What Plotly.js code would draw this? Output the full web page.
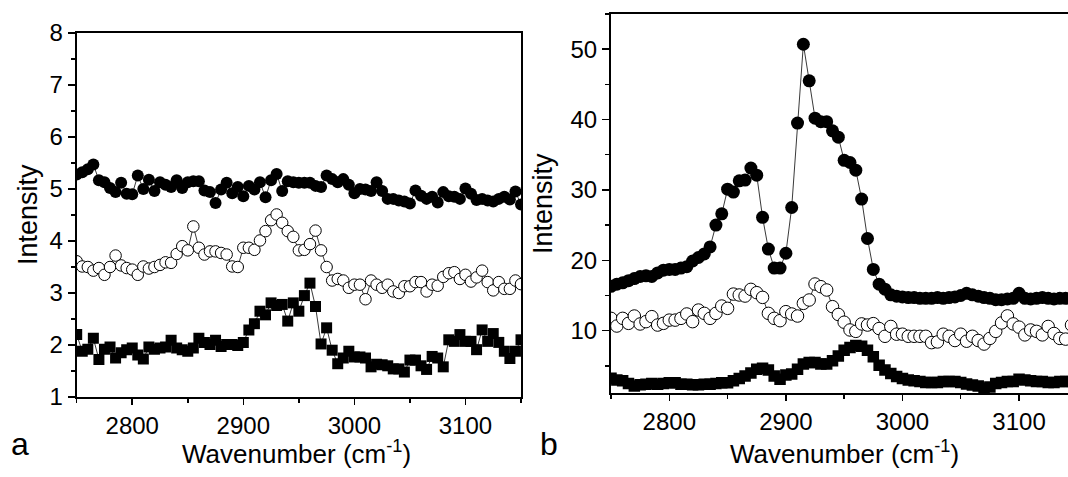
<!DOCTYPE html>
<html>
<head>
<meta charset="utf-8">
<script src="https://cdn.plot.ly/plotly-3.0.1.min.js"></script>
<style>html,body{margin:0;padding:0;background:#fff;}#chart{width:1068px;height:477px;}</style>
</head>
<body>
<div id="chart"></div>
<script>
// ---------- data ----------
const wnLeft = [2750,2755,2760,2765,2770,2775,2780,2785,2790,2795,
  2800,2805,2810,2815,2820,2825,2830,2835,2840,2845,
  2850,2855,2860,2865,2870,2875,2880,2885,2890,2895,
  2900,2905,2910,2915,2920,2925,2930,2935,2940,2945,
  2950,2955,2960,2965,2970,2975,2980,2985,2990,2995,
  3000,3005,3010,3015,3020,3025,3030,3035,3040,3045,
  3050,3055,3060,3065,3070,3075,3080,3085,3090,3095,
  3100,3105,3110,3115,3120,3125,3130,3135,3140,3145,
  3150];
const leftFilled = [5.28,5.32,5.38,5.47,5.17,5.13,5.02,4.94,5.12,4.91,
  4.90,5.26,5.00,5.18,4.96,5.13,5.08,5.04,5.17,5.02,
  5.13,5.15,5.15,4.97,4.94,4.73,4.99,5.12,4.92,5.04,
  4.86,5.06,4.99,5.13,4.84,5.17,5.29,4.96,5.15,5.13,
  5.12,5.12,5.12,5.06,5.04,5.26,5.19,5.13,5.19,5.08,
  4.92,5.00,4.99,4.96,5.13,4.96,4.81,4.81,4.78,4.76,
  4.72,4.97,4.87,4.81,4.85,4.74,4.94,4.86,4.85,4.81,
  5.01,4.91,4.79,4.81,4.78,4.76,4.81,4.85,4.80,4.95,
  4.70];
const leftOpen = [3.61,3.51,3.50,3.43,3.48,3.35,3.50,3.72,3.53,3.48,
  3.45,3.35,3.51,3.47,3.50,3.54,3.59,3.58,3.75,3.90,
  3.82,4.28,3.87,3.74,3.80,3.80,3.77,3.74,3.51,3.50,
  3.87,3.87,3.83,4.01,4.19,4.40,4.51,4.35,4.19,4.08,
  3.82,3.83,3.94,4.20,3.82,3.50,3.24,3.27,3.24,3.10,
  3.16,3.16,2.88,3.24,3.16,3.10,3.16,3.03,3.00,3.13,
  3.13,3.21,3.21,3.03,3.16,3.14,3.31,3.38,3.40,3.27,
  3.35,3.22,3.30,3.43,3.21,3.05,3.21,3.08,3.08,3.24,
  3.17];
const leftSquare = [2.20,1.88,1.92,2.13,1.72,1.92,1.96,1.75,1.85,1.91,
  1.94,1.81,1.73,1.96,1.92,1.94,1.96,2.09,1.94,1.91,
  1.88,1.94,2.13,2.05,2.01,2.09,1.97,2.01,2.01,1.99,
  2.05,2.29,2.41,2.65,2.58,2.81,2.76,2.78,2.46,2.81,
  2.65,2.95,3.19,2.74,2.02,2.33,1.90,1.64,1.75,1.88,
  1.77,1.77,1.75,1.58,1.63,1.62,1.60,1.54,1.54,1.48,
  1.71,1.71,1.60,1.53,1.78,1.75,1.58,2.10,2.07,2.20,
  2.07,2.07,1.91,2.29,2.07,2.22,2.05,1.88,1.74,1.88,
  2.10];

const wnRight = [2750,2755,2760,2765,2770,2775,2780,2785,2790,2795,
  2800,2805,2810,2815,2820,2825,2830,2835,2840,2845,
  2850,2855,2860,2865,2870,2875,2880,2885,2890,2895,
  2900,2905,2910,2915,2920,2925,2930,2935,2940,2945,
  2950,2955,2960,2965,2970,2975,2980,2985,2990,2995,
  3000,3005,3010,3015,3020,3025,3030,3035,3040,3045,
  3050,3055,3060,3065,3070,3075,3080,3085,3090,3095,
  3100,3105,3110,3115,3120,3125,3130,3135,3140,3145];
const rightFilled = [16.3,16.6,16.8,17.1,17.4,17.7,17.8,17.7,18.2,18.6,
  18.7,18.7,18.9,19.1,19.9,20.4,20.9,21.9,25.0,26.6,
  30.1,29.7,31.3,31.4,33.1,32.1,26.1,21.6,18.9,18.9,
  21.0,27.5,39.5,50.7,45.5,40.2,39.7,39.7,38.4,37.5,
  34.2,33.9,32.8,28.7,23.1,18.7,16.6,15.9,15.1,14.9,
  14.8,14.7,14.7,14.6,14.6,14.6,14.7,14.6,14.7,14.8,
  15.0,15.3,15.1,14.9,14.7,14.6,14.4,14.4,14.5,14.6,
  15.3,14.6,14.5,14.6,14.7,14.6,14.5,14.6,14.6,14.6];
const rightOpen = [11.75,10.66,11.75,11.04,12.08,10.95,11.28,11.99,10.8,11.04,
  11.5,11.5,11.75,12.37,11.28,12.93,12.46,11.75,12.46,13.5,
  13.17,15.2,15.07,14.92,15.87,15.4,14.73,12.46,11.75,11.42,
  12.7,12.37,12.08,13.88,14.36,16.63,16.25,15.78,13.41,12.3,
  11.2,10.1,9.9,10.96,10.8,11.0,10.3,9.2,10.6,9.5,
  9.5,9.2,9.2,9.2,9.2,8.3,8.4,9.5,9.2,8.6,
  9.5,8.5,9.2,8.6,8.1,8.9,9.9,11.1,12.1,10.96,
  10.5,9.4,10.1,9.9,9.4,10.6,9.6,8.9,8.8,10.8];
const rightSquare = [3.23,3.0,2.9,2.5,2.14,2.3,2.4,2.5,2.4,2.5,
  2.6,2.6,2.4,2.4,2.3,2.3,2.4,2.4,2.5,2.6,
  2.6,2.9,3.2,3.56,4.0,4.5,4.65,4.4,3.56,3.1,
  3.7,3.85,4.5,5.27,5.46,5.46,5.27,5.27,5.74,6.4,
  7.2,7.6,7.9,7.8,7.2,6.3,5.1,4.4,3.9,3.5,
  3.2,3.0,2.9,2.76,2.62,2.62,2.62,2.76,2.76,2.76,
  2.62,2.43,2.29,2.15,1.82,2.0,2.5,2.62,2.76,2.76,
  3.1,3.0,2.9,2.76,2.76,2.62,2.62,2.76,2.76,2.76];

const xTitle = 'Wavenumber (cm<sup>-1</sup>)';
const yTitle = 'Intensity';
const panelLetters = ['a', 'b'];

// ---------- styling ----------
const FONT = 'Liberation Sans, Arial, Helvetica, sans-serif';
const W = 1068, H = 477;
const lineStyle = {color: '#222', width: 0.9};

function series(x, y, xa, ya, symbol, fill, size) {
  return {
    x: x, y: y, xaxis: xa, yaxis: ya, type: 'scatter', mode: 'lines+markers',
    line: lineStyle,
    marker: {symbol: symbol, size: size, color: fill, line: {color: '#000', width: fill === '#fff' ? 1 : 0}},
    showlegend: false, hoverinfo: 'skip'
  };
}

const traces = [
  series(wnLeft, leftSquare, 'x', 'y', 'square', '#000', 11),
  series(wnLeft, leftOpen, 'x', 'y', 'circle', '#fff', 11.5),
  series(wnLeft, leftFilled, 'x', 'y', 'circle', '#000', 12),
  series(wnRight, rightSquare, 'x2', 'y2', 'square', '#000', 11.5),
  series(wnRight, rightOpen, 'x2', 'y2', 'circle', '#fff', 12.5),
  series(wnRight, rightFilled, 'x2', 'y2', 'circle', '#000', 13)
];

const axisCommon = {
  showgrid: false, zeroline: false, showline: true, linecolor: '#000', linewidth: 2,
  ticks: 'outside', ticklen: 7, tickwidth: 1.5, tickcolor: '#000',
  tickfont: {family: FONT, size: 24, color: '#000'}
};

const px = v => v / W;
const py = v => 1 - v / H;

const layout = {
  width: W, height: H,
  margin: {l: 0, r: 0, t: 0, b: 0, pad: 0},
  paper_bgcolor: '#fff', plot_bgcolor: '#fff',
  font: {family: FONT, color: '#000'},
  xaxis: Object.assign({}, axisCommon, {
    domain: [px(76.7), px(521)], range: [2750, 3150], anchor: 'y',
    tick0: 2800, dtick: 100, mirror: true, ticklen: 6,
    minor: {dtick: 50, tick0: 2750, ticklen: 4, tickwidth: 1.5, tickcolor: '#000', ticks: 'outside'}
  }),
  yaxis: Object.assign({}, axisCommon, {
    domain: [py(397), py(33)], range: [1, 8], anchor: 'x',
    tick0: 1, dtick: 1, mirror: true,
    minor: {dtick: 0.5, tick0: 1, ticklen: 4, tickwidth: 1.5, tickcolor: '#000', ticks: 'outside'}
  }),
  xaxis2: Object.assign({}, axisCommon, {
    domain: [px(611), 1], range: [2750, 3142], anchor: 'y2',
    tick0: 2800, dtick: 100, mirror: true, ticklen: 6,
    minor: {dtick: 50, tick0: 2750, ticklen: 4, tickwidth: 1.5, tickcolor: '#000', ticks: 'outside'}
  }),
  yaxis2: Object.assign({}, axisCommon, {
    domain: [py(393.3), py(14)], range: [1.1, 55], anchor: 'x2',
    tick0: 10, dtick: 10, mirror: false,
    minor: {dtick: 5, tick0: 0, ticklen: 4, tickwidth: 1.5, tickcolor: '#000', ticks: 'outside'}
  }),
  annotations: [
    {text: yTitle, x: px(28), y: py(215), xref: 'paper', yref: 'paper', textangle: -90,
     showarrow: false, xanchor: 'center', yanchor: 'middle', font: {family: FONT, size: 27}},
    {text: yTitle, x: px(543), y: py(204), xref: 'paper', yref: 'paper', textangle: -90,
     showarrow: false, xanchor: 'center', yanchor: 'middle', font: {family: FONT, size: 27}},
    {text: xTitle, x: px(296), y: py(452), xref: 'paper', yref: 'paper',
     showarrow: false, xanchor: 'center', yanchor: 'middle', font: {family: FONT, size: 26}},
    {text: xTitle, x: px(844), y: py(452), xref: 'paper', yref: 'paper',
     showarrow: false, xanchor: 'center', yanchor: 'middle', font: {family: FONT, size: 26}},
    {text: panelLetters[0], x: px(20), y: py(444), xref: 'paper', yref: 'paper',
     showarrow: false, xanchor: 'center', yanchor: 'middle', font: {family: FONT, size: 32}},
    {text: panelLetters[1], x: px(549), y: py(444), xref: 'paper', yref: 'paper',
     showarrow: false, xanchor: 'center', yanchor: 'middle', font: {family: FONT, size: 32}}
  ]
};

Plotly.newPlot('chart', traces, layout, {staticPlot: true, displayModeBar: false});
</script>
</body>
</html>
